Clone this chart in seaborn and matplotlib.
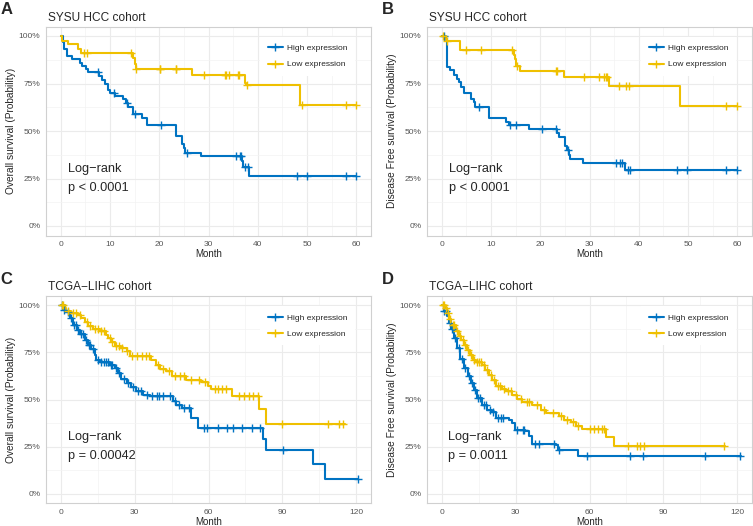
import numpy as np
import matplotlib
matplotlib.use("Agg")
import matplotlib.pyplot as plt
from matplotlib.lines import Line2D
from matplotlib.ticker import MultipleLocator, FuncFormatter
import seaborn as sns

# -----------------------------
# Data
# -----------------------------

# Panel A: SYSU HCC, overall survival
a_high_t = [0, 0.4, 0.7, 1.2, 2.2, 3.9, 4.4, 5.1, 5.6, 7.8, 8.3, 8.9, 9.6, 10.0, 11.0, 12.7,
            13.2, 13.7, 14.7, 16.4, 17.6, 23.3, 24.7, 25.0, 25.2, 28.5, 36.8, 37.1, 38.2, 60]
a_high_s = [1.0, 0.97, 0.93, 0.896, 0.877, 0.856, 0.842, 0.824, 0.81, 0.789, 0.768, 0.745,
            0.715, 0.698, 0.685, 0.668, 0.645, 0.624, 0.592, 0.566, 0.531, 0.473, 0.431,
            0.408, 0.385, 0.367, 0.341, 0.311, 0.264, 0.264]
a_high_cens = [7.5, 10.8, 13.5, 15.0, 20.4, 25.7, 35.6, 36.3, 36.6, 37.5, 38.0, 48.0, 50.0, 58.0, 60.0]

a_low_t = [0, 0.3, 1.5, 3.5, 4.2, 14.7, 15.0, 15.2, 26.7, 37.4, 37.7, 48.6, 60]
a_low_s = [1.0, 0.975, 0.956, 0.93, 0.909, 0.882, 0.852, 0.826, 0.796, 0.754, 0.742, 0.638, 0.638]
a_low_cens = [4.8, 5.3, 14.3, 15.3, 20.1, 20.2, 23.3, 23.4, 29.0, 33.4, 33.6, 34.1, 35.9,
              36.2, 37.9, 48.9, 58.0, 60.0]

# Panel B: SYSU HCC, disease free survival
b_high_t = [0, 0.6, 1.0, 1.1, 1.6, 2.5, 3.0, 3.5, 4.0, 4.5, 6.0, 6.5, 6.8, 9.6, 13.0, 13.6,
            17.8, 23.5, 23.9, 25.0, 25.4, 25.8, 26.1, 28.6, 37.2, 60]
b_high_s = [1.0, 0.979, 0.926, 0.838, 0.82, 0.794, 0.772, 0.759, 0.729, 0.698, 0.671, 0.654,
            0.624, 0.569, 0.548, 0.531, 0.513, 0.487, 0.466, 0.422, 0.399, 0.373, 0.351,
            0.329, 0.293, 0.293]
b_high_cens = [0.5, 7.6, 13.8, 15.1, 20.4, 23.2, 25.6, 35.4, 36.2, 36.5, 37.9, 38.2, 47.8,
               49.9, 57.8, 60.0]

b_low_t = [0, 0.9, 3.6, 14.6, 14.8, 15.0, 15.8, 24.9, 33.9, 48.3, 60]
b_low_s = [1.0, 0.975, 0.926, 0.9, 0.877, 0.842, 0.817, 0.786, 0.736, 0.631, 0.631]
b_low_cens = [0.3, 1.1, 4.9, 8.0, 14.3, 15.2, 23.1, 23.3, 28.9, 32.0, 32.9, 33.3, 33.5,
              36.0, 37.5, 38.1, 57.8, 60.0]

# Panel C: TCGA-LIHC, overall survival
c_high_t = [0, 1.0, 2.3, 3.7, 5.0, 6.4, 7.7, 9.7, 11.1, 12.4, 13.8, 14.5, 15.8, 19.9, 21.9,
            23.3, 24.6, 26.7, 28.7, 30.7, 33.4, 36.1, 45.6, 47.0, 49.4, 53.0, 55.7, 82.0,
            83.5, 102.4, 107.2, 120.7]
c_high_s = [1.0, 0.977, 0.963, 0.933, 0.897, 0.871, 0.85, 0.818, 0.791, 0.768, 0.738, 0.712,
            0.697, 0.685, 0.667, 0.641, 0.609, 0.588, 0.566, 0.543, 0.526, 0.517, 0.49,
            0.473, 0.457, 0.402, 0.349, 0.29, 0.232, 0.155, 0.077, 0.077]
c_high_cens = [0.5, 1.5, 2.8, 4.2, 5.5, 6.0, 7.0, 8.2, 9.0, 10.2, 11.5, 12.0, 13.0, 15.0,
               16.5, 17.5, 18.2, 19.0, 20.5, 21.0, 22.5, 23.8, 25.5, 27.5, 29.5, 31.5, 32.5,
               35.0, 37.0, 39.0, 40.0, 41.5, 44.5, 46.5, 48.0, 50.0, 52.0, 58.0, 59.5, 64.0,
               67.5, 70.0, 73.5, 77.5, 81.0, 90.2, 120.7]

c_low_t = [0, 1.6, 2.3, 4.3, 7.0, 8.4, 9.7, 11.1, 13.1, 15.8, 18.3, 19.2, 20.6, 21.9, 24.6,
           26.7, 28.0, 36.8, 38.8, 40.2, 42.9, 45.3, 51.0, 57.1, 59.8, 61.2, 69.7, 80.5,
           83.2, 115.3]
c_low_s = [1.0, 0.986, 0.968, 0.959, 0.95, 0.933, 0.91, 0.889, 0.874, 0.862, 0.844, 0.827,
           0.805, 0.786, 0.773, 0.756, 0.729, 0.712, 0.685, 0.662, 0.65, 0.623, 0.605, 0.593,
           0.573, 0.558, 0.517, 0.452, 0.372, 0.372]
c_low_cens = [0.5, 1.0, 3.0, 5.0, 6.0, 8.0, 10.5, 12.0, 14.0, 15.0, 16.5, 17.5, 19.8, 21.0,
              22.5, 23.5, 25.0, 27.0, 29.0, 31.0, 33.0, 34.5, 36.0, 39.5, 41.5, 44.0, 46.5,
              48.5, 50.0, 53.0, 56.0, 58.5, 62.5, 64.0, 65.5, 67.0, 72.5, 74.5, 76.5, 78.0,
              80.0, 90.0, 108.5, 113.0, 114.6]

# Panel D: TCGA-LIHC, disease free survival
d_high_t = [0, 0.8, 2.2, 2.9, 3.9, 4.9, 6.2, 7.6, 9.0, 10.7, 11.7, 13.0, 14.4, 16.2, 18.5,
            20.5, 21.9, 27.3, 28.6, 29.7, 34.0, 35.4, 36.8, 46.3, 47.4, 55.4, 121.6]
d_high_s = [1.0, 0.968, 0.942, 0.906, 0.874, 0.827, 0.773, 0.715, 0.667, 0.623, 0.588, 0.552,
            0.508, 0.473, 0.446, 0.432, 0.402, 0.393, 0.375, 0.34, 0.331, 0.304, 0.264, 0.26,
            0.23, 0.198, 0.198]
d_high_cens = [1.0, 1.8, 3.3, 4.3, 5.5, 6.8, 8.2, 9.5, 11.0, 12.3, 13.5, 14.8, 15.5, 17.0,
               18.0, 19.5, 21.0, 23.0, 24.0, 25.0, 30.5, 33.0, 33.5, 38.0, 39.5, 45.5, 47.8,
               58.9, 76.4, 81.6, 107.0, 121.0]

d_low_t = [0, 1.5, 2.2, 3.1, 3.9, 5.6, 6.9, 8.0, 9.0, 10.3, 11.3, 12.6, 13.7, 16.4, 17.5,
           19.1, 20.5, 21.9, 24.6, 25.9, 28.6, 30.7, 32.7, 36.8, 40.2, 42.2, 47.6, 49.7,
           52.4, 54.4, 57.1, 66.9, 70.0, 115.0]
d_low_s = [1.0, 0.986, 0.959, 0.927, 0.897, 0.862, 0.839, 0.818, 0.791, 0.761, 0.738, 0.712,
           0.697, 0.685, 0.658, 0.632, 0.605, 0.573, 0.556, 0.543, 0.526, 0.503, 0.485,
           0.473, 0.446, 0.428, 0.414, 0.393, 0.379, 0.358, 0.343, 0.301, 0.255, 0.255]
d_low_cens = [0.5, 1.0, 1.8, 2.6, 3.5, 4.5, 5.0, 6.2, 7.5, 8.5, 9.6, 10.8, 12.0, 13.2, 14.5,
              15.0, 15.8, 17.0, 18.3, 19.8, 21.2, 22.8, 23.5, 25.2, 27.0, 28.0, 30.0, 32.0,
              34.5, 35.5, 38.5, 41.5, 45.0, 48.5, 51.0, 53.5, 55.5, 60.0, 62.0, 63.5, 65.0,
              66.0, 75.7, 79.1, 80.6, 82.2, 114.6]

panel_letters = ["A", "B", "C", "D"]
titles = ["SYSU HCC cohort", "SYSU HCC cohort", "TCGA\u2212LIHC cohort", "TCGA\u2212LIHC cohort"]
ylabels = ["Overall survival (Probability)", "Disease Free survival (Probability)",
           "Overall survival (Probability)", "Disease Free survival (Probability)"]
pvalues = ["p < 0.0001", "p < 0.0001", "p = 0.00042", "p = 0.0011"]
group_names = ["High expression", "Low expression"]

BLUE = "#0073C2"
YELLOW = "#EFC000"

# -----------------------------
# Figure setup
# -----------------------------

sns.set_style("white")
plt.rcParams["font.family"] = ["Liberation Sans", "DejaVu Sans"]

fig = plt.figure(figsize=(7.53, 5.26), dpi=100)

W, H = 753.0, 526.0
# (left, top, right, bottom) in pixels
boxes = [(46, 26.5, 371, 235.5), (427, 26.5, 752, 235.5),
         (46, 296, 371, 503), (427, 296, 752, 503)]

panels = [
    (a_high_t, a_high_s, a_high_cens, a_low_t, a_low_s, a_low_cens, 60, 10, 1.4),
    (b_high_t, b_high_s, b_high_cens, b_low_t, b_low_s, b_low_cens, 60, 10, 1.4),
    (c_high_t, c_high_s, c_high_cens, c_low_t, c_low_s, c_low_cens, 120, 30, 2.8),
    (d_high_t, d_high_s, d_high_cens, d_low_t, d_low_s, d_low_cens, 120, 30, 2.7),
]


def draw_curve(ax, t, s, cens, color):
    t = np.array(t)
    s = np.array(s)
    sns.lineplot(x=t, y=s, ax=ax, color=color, linewidth=1.5,
                 drawstyle="steps-post", estimator=None, sort=False)
    cens = np.array(cens)
    idx = np.searchsorted(t, cens, side="right") - 1
    sns.scatterplot(x=cens, y=s[idx], ax=ax, color=color, marker="+",
                    s=36, linewidth=1.0, zorder=4)


for i, (box, p) in enumerate(zip(boxes, panels)):
    l, t_, r, b = box
    ax = fig.add_axes([l / W, 1 - b / H, (r - l) / W, (b - t_) / H])
    ht, hs, hc, lt, ls, lc, xmax, xstep, txt_x = p

    draw_curve(ax, ht, hs, hc, BLUE)
    draw_curve(ax, lt, ls, lc, YELLOW)

    ax.set_xlim(-0.05 * xmax, 1.05 * xmax)
    ax.set_ylim(-0.05, 1.05)
    ax.xaxis.set_major_locator(MultipleLocator(xstep))
    ax.xaxis.set_minor_locator(MultipleLocator(xstep / 2))
    ax.yaxis.set_major_locator(MultipleLocator(0.25))
    ax.yaxis.set_minor_locator(MultipleLocator(0.125))
    ax.yaxis.set_major_formatter(FuncFormatter(lambda v, pos: f"{v * 100:.0f}%"))

    ax.grid(True, which="major", color="#EBEBEB", linewidth=0.8)
    ax.grid(True, which="minor", color="#F3F3F3", linewidth=0.5)
    ax.set_axisbelow(True)
    for sp in ax.spines.values():
        sp.set_color("#D0D0D0")
        sp.set_linewidth(0.8)

    ax.tick_params(axis="both", which="major", length=2.5, width=0.6, color="#444444",
                   labelsize=6, labelcolor="#555555", pad=1.5)
    ax.tick_params(axis="both", which="minor", length=0)

    ax.set_xlabel("Month", fontsize=7, labelpad=1)
    ax.set_ylabel(ylabels[i], fontsize=7.3, labelpad=2)

    ax.text(txt_x, 0.30, "Log\u2212rank", fontsize=9.2, va="center", ha="left")
    ax.text(txt_x, 0.20, pvalues[i], fontsize=9.2, va="center", ha="left")

    handles = [Line2D([0], [0], color=BLUE, lw=1.5, marker="+", markersize=6, mew=1.0),
               Line2D([0], [0], color=YELLOW, lw=1.5, marker="+", markersize=6, mew=1.0)]
    leg = ax.legend(handles, group_names, loc="upper right", bbox_to_anchor=(0.95, 0.95),
                    fontsize=6, frameon=True, facecolor="white", edgecolor="none",
                    framealpha=1, handlelength=1.8, handletextpad=0.5, labelspacing=1.0,
                    borderpad=0.9, borderaxespad=0.0)
    leg.get_frame().set_boxstyle("square", pad=0)

    # title and panel letter
    ax.text(0.005, 1.013, titles[i], transform=ax.transAxes, fontsize=8.6, ha="left", va="bottom")
    fig.text((l - 46) / W + 0.001, 1 - (t_ - 26) / H - 0.003, panel_letters[i],
             fontsize=12, fontweight="bold", ha="left", va="top")

plt.savefig("out.png", dpi=100)
